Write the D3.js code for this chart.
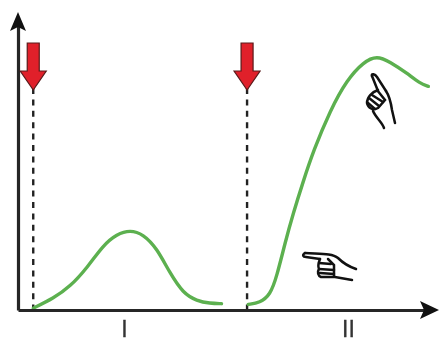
<!DOCTYPE html>
<html>
<head>
<meta charset="utf-8">
<script src="https://cdn.jsdelivr.net/npm/d3@7"></script>
<style>
html, body { margin: 0; padding: 0; background: #fff; }
svg { display: block; filter: blur(0.4px); }
.tick text { font-family: "Liberation Sans", sans-serif; font-size: 23px; fill: #333; stroke: #333; stroke-width: 0.3; }
</style>
</head>
<body>
<svg width="441" height="342"></svg>
<script>
// values, x = time, y = response (both 0-100)
const phaseLabels = ['I', 'II'];
const phaseX = [25.7, 80.1];
const stimulusX = [3.7, 55.6];

const curve1X = [3.7, 8.6, 12.6, 16.7, 20.7, 24.0, 27.2, 30.4, 33.7, 36.9, 40.1, 43.4, 46.6, 49.4];
const curve1Y = [0.7, 4.6, 9.2, 16.5, 25.7, 30, 31.6, 30, 24.4, 14.5, 6.6, 3.6, 2.6, 2.5];
const curve2X = [55.9, 58.7, 61.2, 62.8, 64.8, 66.8, 69.2, 71.7, 75.8, 79.8, 83.9, 87.1, 90.3, 94.4, 97.5, 99.6];
const curve2Y = [2.2, 2.9, 5.9, 13.2, 26.4, 38.2, 50.7, 62.9, 79, 90.9, 98.1, 100.5, 98.1, 93.6, 89.6, 88.4];

const svg = d3.select('svg');

const xScale = d3.scaleLinear().domain([0, 100]).range([18, 430]);
const yScale = d3.scaleLinear().domain([0, 100]).range([310, 57]);
const y0 = yScale(0);

const axisColor = '#262626';

// dashed lines under the arrows
svg.selectAll('.drop').data(stimulusX)
    .enter().append('line')
        .attr('class', 'drop')
        .attr('x1', d => xScale(d))
        .attr('x2', d => xScale(d))
        .attr('y1', 88)
        .attr('y2', y0)
        .attr('stroke', '#222')
        .attr('stroke-width', 2.4)
        .attr('stroke-dasharray', '6 5.4');

// green curves
const line = d3.line()
    .x(d => xScale(d[0]))
    .y(d => yScale(d[1]))
    .curve(d3.curveBasis);

[d3.zip(curve1X, curve1Y), d3.zip(curve2X, curve2Y)].forEach(pts => {
    svg.append('path')
        .attr('d', line(pts))
        .attr('fill', 'none')
        .attr('stroke', '#5cb04f')
        .attr('stroke-width', 3.4)
        .attr('stroke-linecap', 'round');
});

// axes, no ticks, only the phase labels
const xAxis = d3.axisBottom(xScale)
    .tickValues(phaseX)
    .tickFormat((d, i) => phaseLabels[i])
    .tickSize(0)
    .tickPadding(10.7);

const xAxisG = svg.append('g')
    .attr('transform', `translate(0,${y0})`)
    .call(xAxis);
xAxisG.select('.domain').attr('stroke', axisColor).attr('stroke-width', 3.2);

const yAxisG = svg.append('g')
    .attr('transform', `translate(${xScale(0)},0)`)
    .call(d3.axisLeft(d3.scaleLinear().domain([0, 1]).range([y0, 25])).tickValues([]).tickSize(0));
yAxisG.select('.domain').attr('stroke', axisColor).attr('stroke-width', 3.2);

svg.append('path')
    .attr('d', 'M439,310 L420,301 L424,310 L420,319 Z')
    .attr('fill', '#111');
svg.append('path')
    .attr('d', 'M18,12 L10,31 L18,27 L26,31 Z')
    .attr('fill', '#111');

// red arrows
svg.selectAll('.arrow').data(stimulusX)
    .enter().append('path')
        .attr('class', 'arrow')
        .attr('transform', d => `translate(${xScale(d)},43)`)
        .attr('d', 'M-6,0 L6,0 L6,28 L13,28 L0,47 L-13,28 L-6,28 Z')
        .attr('fill', '#e0202a')
        .attr('stroke', '#5a1a1a')
        .attr('stroke-width', 1.2);

// hands, drawn as small line glyphs
const handUp = [
    'M32,16 C31,13 35,14 37,17 L46,31',
    'M32,16 L38,31',
    'M38,30 C32,32 27,37 27,43 C28,48 33,51 38,48 L45,40 L37,30',
    'M32,35 L43,42 M29,38 L39,46 M28,43 L35,49',
    'M46,31 C50,37 51,43 52,50 L55,63',
    'M33,51 C36,58 42,62 44,68'
];
const handRight = [
    'M15,13 C30,14 42,13 48,18 C54,24 60,27 66,29',
    'M15,13 C12,15 13,17 16,17 L30,19',
    'M30,19 C28,24 28,27 29,29 C27,32 28,36 31,37 L45,37 L62,40',
    'M29,23 L41,24 M29,29 L44,30 M30,33 L44,34',
    'M38,19 L44,25 L44,36'
];

const drawHand = (paths, x, y) => {
    const g = svg.append('g').attr('transform', `translate(${x},${y})`);
    g.selectAll('path').data(paths)
        .enter().append('path')
            .attr('d', d => d)
            .attr('fill', 'none')
            .attr('stroke', '#111')
            .attr('stroke-width', 2.5)
            .attr('stroke-linecap', 'round');
};
drawHand(handUp, 340, 60);
drawHand(handRight, 290, 240);
</script>
</body>
</html>
